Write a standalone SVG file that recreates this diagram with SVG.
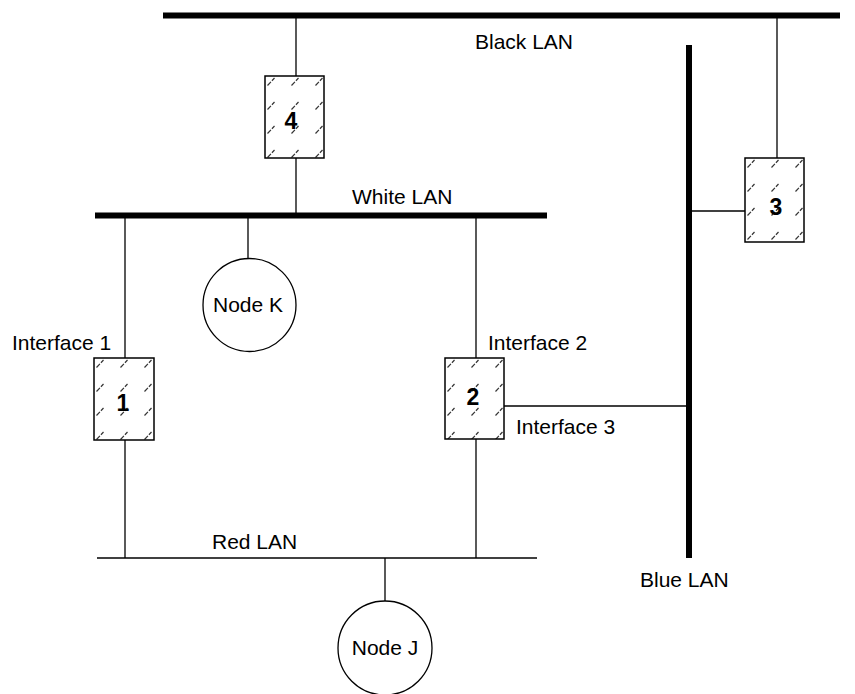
<svg xmlns="http://www.w3.org/2000/svg" width="855" height="694" viewBox="0 0 855 694">
<style>
  .lan{stroke:#000;stroke-width:6;fill:none}
  .wire{stroke:#000;stroke-width:1.3;fill:none}
  .box{fill:url(#hatch);stroke:#000;stroke-width:1.5}
  .node{fill:#fff;stroke:#000;stroke-width:1.3}
  .lbl{font-family:"Liberation Sans",Arial,sans-serif;font-size:21px;fill:#000}
  .num{font-family:"Liberation Sans",Arial,sans-serif;font-size:23px;font-weight:bold;fill:#000;text-anchor:middle}
  .nlbl{font-family:"Liberation Sans",Arial,sans-serif;font-size:21px;fill:#000;text-anchor:middle}
</style>
<defs>
  <pattern id="hatch" patternUnits="userSpaceOnUse" width="24" height="24">
    <rect width="24" height="24" fill="#fff"/>
    <line x1="2.5" y1="9.5" x2="9.5" y2="2" stroke="#333" stroke-width="1.2" stroke-dasharray="5,1.5"/>
  </pattern>
</defs>
<rect width="855" height="694" fill="#fff"/>
<g id="connectors">
  <line class="wire" x1="296" y1="18" x2="296" y2="76"/>
  <line class="wire" x1="296" y1="158" x2="296" y2="213"/>
  <line class="wire" x1="777" y1="18" x2="777" y2="158"/>
  <line class="wire" x1="691" y1="211" x2="745" y2="211"/>
  <line class="wire" x1="248" y1="218" x2="248" y2="259"/>
  <line class="wire" x1="125" y1="218" x2="125" y2="358"/>
  <line class="wire" x1="125" y1="440" x2="125" y2="558"/>
  <line class="wire" x1="476" y1="218" x2="476" y2="358"/>
  <line class="wire" x1="476" y1="439" x2="476" y2="558"/>
  <line class="wire" x1="504" y1="406" x2="687" y2="406"/>
  <line class="wire" x1="385" y1="558" x2="385" y2="601"/>
</g>
<g id="black-lan">
  <line class="lan" x1="163" y1="15.5" x2="840" y2="15.5"/>
  <text class="lbl" x="475" y="49">Black LAN</text>
</g>
<g id="white-lan">
  <line class="lan" x1="95" y1="215.5" x2="547" y2="215.5"/>
  <text class="lbl" x="352" y="204">White LAN</text>
</g>
<g id="blue-lan">
  <line class="lan" x1="689" y1="45" x2="689" y2="558"/>
  <text class="lbl" x="640" y="587">Blue LAN</text>
</g>
<g id="red-lan">
  <line class="wire" x1="97" y1="558" x2="537" y2="558"/>
  <text class="lbl" x="212" y="549">Red LAN</text>
</g>
<g id="box4" transform="translate(265,76)">
  <rect class="box" x="0" y="0" width="59" height="82"/>
  <text class="num" x="26" y="53">4</text>
</g>
<g id="box3" transform="translate(745,158)">
  <rect class="box" x="0" y="0" width="59" height="84"/>
  <text class="num" x="31" y="57">3</text>
</g>
<g id="box1" transform="translate(94,358)">
  <rect class="box" x="0" y="0" width="60" height="82"/>
  <text class="num" x="29" y="53">1</text>
  <text class="lbl" x="-82" y="-8">Interface 1</text>
</g>
<g id="box2" transform="translate(445,358)">
  <rect class="box" x="0" y="0" width="59" height="81"/>
  <text class="num" x="28" y="47">2</text>
  <text class="lbl" x="43" y="-8">Interface 2</text>
  <text class="lbl" x="71" y="76">Interface 3</text>
</g>
<g id="node-k">
  <circle class="node" cx="249.5" cy="305" r="46.5"/>
  <text class="nlbl" x="248" y="312">Node K</text>
</g>
<g id="node-j">
  <circle class="node" cx="385" cy="648" r="47"/>
  <text class="nlbl" x="385" y="655">Node J</text>
</g>
</svg>
